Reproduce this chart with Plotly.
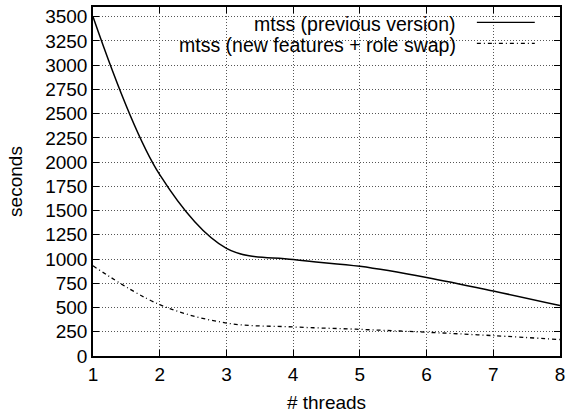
import plotly.graph_objects as go

threads = [1, 2, 3, 4, 5, 6, 7, 8]
prev_version = [3500, 1870, 1110, 995, 925, 810, 670, 520]
new_features = [930, 530, 340, 300, 275, 245, 210, 170]
legend_labels = ["mtss (previous version)", "mtss (new features + role swap)"]
y_ticks = list(range(0, 3501, 250))

FONT = "Liberation Sans, Arial, sans-serif"
DASHDOT = "4px,3px,1px,3px"

fig = go.Figure()
fig.add_trace(go.Scatter(x=threads, y=prev_version, mode="lines",
                         line=dict(color="black", width=1.5, shape="spline", smoothing=1.0),
                         name=legend_labels[0], showlegend=False))
fig.add_trace(go.Scatter(x=threads, y=new_features, mode="lines",
                         line=dict(color="black", width=1.3, shape="spline", smoothing=1.0,
                                   dash=DASHDOT),
                         name=legend_labels[1], showlegend=False))

# opaque key area hiding the grid
fig.add_shape(type="rect", xref="paper", yref="y", x0=0, x1=1, y0=3090, y1=3600,
              fillcolor="white", line=dict(width=0), layer="between")

# custom legend
key_rows = [(0.952, "solid"), (0.892, DASHDOT)]
for (yp, dash), label in zip(key_rows, legend_labels):
    fig.add_annotation(xref="paper", yref="paper", x=0.781, y=yp, text=label,
                       showarrow=False, xanchor="right", yanchor="middle",
                       font=dict(family=FONT, size=19.5, color="black"))
    fig.add_shape(type="line", xref="paper", yref="paper", x0=0.822, x1=0.946,
                  y0=yp + 0.004, y1=yp + 0.004, line=dict(color="black", width=1.3, dash=dash))

grid = dict(showgrid=True, gridcolor="#555", griddash="1px,2px", gridwidth=1, zeroline=False)
fig.update_xaxes(range=[1, 8], tickmode="linear", dtick=1, automargin=False,
                 showline=True, linecolor="black", linewidth=1.5, mirror="allticks",
                 ticks="inside", ticklen=6, tickcolor="black",
                 tickfont=dict(family=FONT, size=19, color="black"),
                 title=dict(text="# threads", font=dict(family=FONT, size=19, color="black"), standoff=12),
                 **grid)
fig.update_yaxes(range=[0, 3600], tickmode="array", tickvals=y_ticks, automargin=False,
                 showline=True, linecolor="black", linewidth=1.5, mirror="allticks",
                 ticks="inside", ticklen=6, tickcolor="black",
                 tickfont=dict(family=FONT, size=19, color="black"),
                 title=dict(text="seconds", font=dict(family=FONT, size=19, color="black"), standoff=18),
                 **grid)

fig.update_layout(width=572, height=413, margin=dict(l=93, r=12, t=7, b=57),
                  plot_bgcolor="white", paper_bgcolor="white", showlegend=False)

fig.write_html("out.html")
